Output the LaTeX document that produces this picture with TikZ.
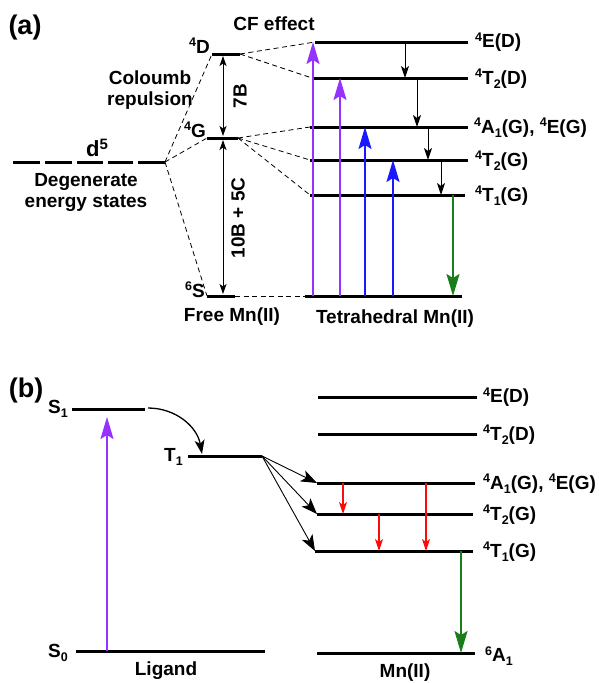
\documentclass[tikz,border=0pt]{standalone}
\usepackage{fontspec}
\setmainfont{Liberation Sans}
\usetikzlibrary{arrows.meta}
\definecolor{vio}{RGB}{150,50,255}
\definecolor{blu}{RGB}{25,25,255}
\definecolor{grn}{RGB}{25,125,25}
\definecolor{rd}{RGB}{255,10,10}
\newcommand\upx[1]{\raisebox{0.62ex}{\fontsize{12.5}{12.5}\selectfont #1}}
\newcommand\dnx[1]{\raisebox{-0.45ex}{\fontsize{12.5}{12.5}\selectfont #1}}
\begin{document}
\begin{tikzpicture}[x=1pt,y=-1pt,
  every node/.style={font=\fontsize{19}{21}\selectfont\bfseries, inner sep=0pt},
  level/.style={line width=3pt},
  dsh/.style={line width=0.8pt, dash pattern=on 5pt off 3.5pt},
  bighead/.style={-{Stealth[length=22pt,width=13pt,inset=4pt]}},
  smallhead/.style={-{Stealth[length=12pt,width=8pt,inset=3pt]}},
  fanhead/.style={-{Stealth[length=16pt,width=12pt,inset=4pt]}},
  uparr/.style={bighead, line width=1.8pt},
  lab/.style={anchor=west}]
\useasboundingbox (0,0) rectangle (598,683);

% ================= panel (a) =================
\node (pa) at (25,28) {\fontsize{27}{27}\selectfont (a)};
\node (cf) at (274,24) {CF effect};

% degenerate d5
\foreach \a/\b in {13/40,45/72,77/103,108/133,138/165}
  \draw[level] (\a,162) -- (\b,162);
\coordinate (dj) at (165,162);
\node (d5) at (97,148) {\fontsize{22}{22}\selectfont d\upx{\fontsize{15}{15}\selectfont 5}};
\node[align=center] (deg) at (86,192) {Degenerate\\energy states};
\node[align=center] (coul) at (150,90) {Coloumb\\repulsion};

% free ion levels
\coordinate (DL) at (212,54);  \coordinate (DR) at (240,54);
\coordinate (GL) at (207,138); \coordinate (GR) at (238,138);
\coordinate (SL) at (207,296); \coordinate (SR) at (235,296);
\draw[level] (DL) -- (DR);
\draw[level] (GL) -- (GR);
\draw[level] (SL) -- (SR);
\node[anchor=base east] (lD) at (210,53) {\upx{4}D};
\node[anchor=base east] (lG) at (206,137) {\upx{4}G};
\node[anchor=base east] (lS) at (205,297) {\upx{6}S};
\node (free) at (232,317) {Free Mn(II)};

\draw[dsh] (dj) -- (DL);
\draw[dsh] (dj) -- (GL);
\draw[dsh] (dj) -- (SL);

% 7B and 10B+5C
\coordinate (bx) at (223,0);
\draw[line width=1pt, {Stealth[length=10pt,width=7pt,inset=2.5pt]}-{Stealth[length=10pt,width=7pt,inset=2.5pt]}]
  ([yshift=-2pt]bx |- DL) -- ([yshift=2pt]bx |- GL);
\draw[line width=1pt, {Stealth[length=10pt,width=7pt,inset=2.5pt]}-{Stealth[length=10pt,width=7pt,inset=2.5pt]}]
  ([yshift=-2pt]bx |- GL) -- ([yshift=2pt]bx |- SL);
\node[rotate=90] (b7) at (240,96) {7B};
\node[rotate=90] (b10) at (238,218) {10B + 5C};

% tetrahedral levels
\coordinate (t1L) at (315,42);  \coordinate (t1R) at (468,42);
\coordinate (t2L) at (312,78);  \coordinate (t2R) at (468,78);
\coordinate (t3L) at (310,127); \coordinate (t3R) at (468,127);
\coordinate (t4L) at (310,160); \coordinate (t4R) at (468,160);
\coordinate (t5L) at (310,195); \coordinate (t5R) at (465,195);
\coordinate (t6L) at (305,296); \coordinate (t6R) at (462,296);
\foreach \i in {1,...,6} \draw[level] (t\i L) -- (t\i R);
\node[lab] (lt1) at (475,42) {\upx{4}E(D)};
\node[lab] (lt2) at (475,79) {\upx{4}T\dnx{2}(D)};
\node[lab] (lt3) at (474,128) {\upx{4}A\dnx{1}(G), \upx{4}E(G)};
\node[lab] (lt4) at (475,161) {\upx{4}T\dnx{2}(G)};
\node[lab] (lt5) at (475,196) {\upx{4}T\dnx{1}(G)};
\node (tet) at (395,319) {Tetrahedral Mn(II)};

\draw[dsh] (DR) -- (t1L);
\draw[dsh] (DR) -- (t2L);
\draw[dsh] (GR) -- (t3L);
\draw[dsh] (GR) -- (t4L);
\draw[dsh] (GR) -- (t5L);
\draw[dsh] (SR) -- (t6L);

% absorption arrows
\draw[uparr, vio] (313,0 |- t6L) -- (313,0 |- t1L);
\draw[uparr, vio] (340,0 |- t6L) -- (340,0 |- t2L);
\draw[uparr, blu] (365,0 |- t6L) -- (365,0 |- t3L);
\draw[uparr, blu] (393,0 |- t6L) -- (393,0 |- t4L);
% relaxation
\draw[smallhead, line width=1pt] (405,0 |- t1L) -- (405,0 |- t2L);
\draw[smallhead, line width=1pt] (417,0 |- t2L) -- (417,0 |- t3L);
\draw[smallhead, line width=1pt] (428,0 |- t3L) -- (428,0 |- t4L);
\draw[smallhead, line width=1pt] (441,0 |- t4L) -- (441,0 |- t5L);
% emission
\draw[bighead, grn, line width=1.5pt] (453,0 |- t5L) -- (453,0 |- t6L);

% ================= panel (b) =================
\node (pb) at (26,391) {\fontsize{27}{27}\selectfont (b)};

\coordinate (S1L) at (72,409);  \coordinate (S1R) at (145,409);
\coordinate (T1L) at (188,456); \coordinate (T1R) at (262,456);
\coordinate (S0L) at (76,651);  \coordinate (S0R) at (265,651);
\draw[level] (S1L) -- (S1R);
\draw[level] (T1L) -- (T1R);
\draw[level] (S0L) -- (S0R);
\node[anchor=base east] (lS1) at (68,413) {S\dnx{1}};
\node[anchor=base east] (lT1) at (183,461) {T\dnx{1}};
\node[anchor=base east] (lS0) at (68,657) {S\dnx{0}};
\node (lig) at (166,671) {Ligand};

\draw[uparr, vio] (107,0 |- S0L) -- ([yshift=-8pt]107,0 |- S1L);
\coordinate (isc0) at (148,408);
\coordinate (isc1) at (202,454);
\draw[line width=1.3pt, -{Stealth[length=14pt,width=10pt,inset=3.5pt]}]
  (isc0) to[out=0,in=100] (isc1);

% Mn levels
\coordinate (m1L) at (318,397); \coordinate (m1R) at (477,397);
\coordinate (m2L) at (318,434); \coordinate (m2R) at (477,434);
\coordinate (m3L) at (317,483); \coordinate (m3R) at (475,483);
\coordinate (m4L) at (317,514); \coordinate (m4R) at (473,514);
\coordinate (m5L) at (315,551); \coordinate (m5R) at (473,551);
\coordinate (m6L) at (317,653); \coordinate (m6R) at (475,653);
\foreach \i in {1,...,6} \draw[level] (m\i L) -- (m\i R);
\node[lab] (lm1) at (483,397) {\upx{4}E(D)};
\node[lab] (lm2) at (483,435) {\upx{4}T\dnx{2}(D)};
\node[lab] (lm3) at (483,484) {\upx{4}A\dnx{1}(G), \upx{4}E(G)};
\node[lab] (lm4) at (483,515) {\upx{4}T\dnx{2}(G)};
\node[lab] (lm5) at (483,552) {\upx{4}T\dnx{1}(G)};
\node[lab] (lm6) at (485,656) {\upx{6}A\dnx{1}};
\node (mn) at (405,673) {Mn(II)};

% energy transfer fan
\draw[fanhead, line width=0.9pt] (T1R) -- (m3L);
\draw[fanhead, line width=0.9pt] (T1R) -- (m4L);
\draw[fanhead, line width=0.9pt] (T1R) -- (m5L);

% red relaxations
\draw[smallhead, rd, line width=1.2pt] (343,0 |- m3L) -- (343,0 |- m4L);
\draw[smallhead, rd, line width=1.2pt] (379,0 |- m4L) -- (379,0 |- m5L);
\draw[smallhead, rd, line width=1.2pt] (426,0 |- m3L) -- (426,0 |- m5L);
% green emission
\draw[bighead, grn, line width=1.5pt] (461,0 |- m5L) -- (461,0 |- m6L);
\end{tikzpicture}
\end{document}
